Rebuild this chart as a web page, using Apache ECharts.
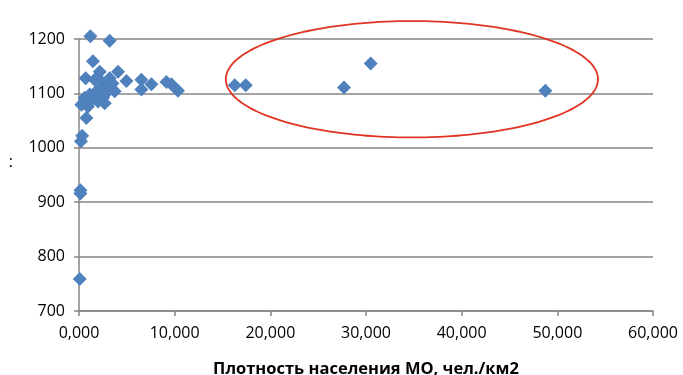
<!DOCTYPE html>
<html>
<head>
<meta charset="utf-8">
<script src="https://cdn.jsdelivr.net/npm/echarts@6/dist/echarts.min.js"></script>
<style>
html,body{margin:0;padding:0;background:#fff;}
#c{width:683px;height:375px;}
</style>
</head>
<body>
<div id="c"></div>
<script>
// Population density (x) and value (y)
var densityValues = [1.19, 3.21, 1.46, 4.08, 4.96, 6.52, 6.52, 7.57, 9.14, 9.66, 10.35,
  0.70, 2.17, 3.21, 3.73, 2.51, 2.69, 0.60, 0.25, 0.94, 0.77, 1.12, 1.64, 2.34, 3.21,
  1.82, 2.51, 0.42, 0.33, 0.20, 0.15, 0.15, 0.08, 1.30, 2.00, 2.80, 3.50,
  16.28, 17.43, 27.70, 30.49, 48.75];
var yValues = [1205, 1197, 1159, 1140, 1123, 1125, 1107, 1117, 1121, 1117, 1105,
  1128, 1140, 1110, 1104, 1092, 1082, 1092, 1079, 1076, 1055, 1098, 1125, 1122, 1128,
  1104, 1113, 1082, 1022, 1012, 922, 916, 759, 1088, 1085, 1100, 1118,
  1115, 1115, 1111, 1155, 1105];
var xTicks = {min: 0, max: 60, interval: 10};
var yTicks = {min: 700, max: 1200, interval: 100};
var xAxisTitle = 'Плотность населения МО, чел./км2';
var yAxisTitle = ':';
// highlighted region (ellipse) in data units
var highlightCenter = [34.8, 1126];
var highlightRadius = [19.45, 107];

var points = densityValues.map(function (x, i) { return [x, yValues[i]]; });

var chart = echarts.init(document.getElementById('c'));
var font = '"Open Sans", "Liberation Sans", sans-serif';
chart.setOption({
  animation: false,
  grid: {left: 79, right: 30, top: 39, bottom: 64, containLabel: false, outerBoundsMode: 'none'},
  xAxis: {
    type: 'value', min: xTicks.min, max: xTicks.max, interval: xTicks.interval,
    name: xAxisTitle, nameLocation: 'middle', nameGap: 50,
    nameTextStyle: {fontFamily: font, fontSize: 16.5, fontWeight: 'bold', color: '#000'},
    axisLine: {show: true, lineStyle: {color: '#868686', width: 1.5}},
    axisTick: {show: true, length: 5, lineStyle: {color: '#868686', width: 1.5}},
    splitLine: {show: false},
    axisLabel: {fontFamily: font, fontSize: 16, color: '#000', margin: 14,
      formatter: function (v) { return v.toFixed(3).replace('.', ','); }}
  },
  yAxis: {
    type: 'value', min: yTicks.min, max: yTicks.max, interval: yTicks.interval,
    name: yAxisTitle, nameLocation: 'middle', nameRotate: 0, nameGap: 66,
    nameTextStyle: {fontFamily: font, fontSize: 16, color: '#000', verticalAlign: 'bottom', lineHeight: 26},
    axisLine: {show: true, lineStyle: {color: '#868686', width: 1.5}},
    axisTick: {show: true, length: 5, lineStyle: {color: '#868686', width: 1.5}},
    splitLine: {show: true, lineStyle: {color: '#868686', width: 1.5}},
    axisLabel: {fontFamily: font, fontSize: 16, color: '#000', margin: 14,
      formatter: function (v) { return String(v); }}
  },
  series: [{
    type: 'scatter', symbol: 'diamond', symbolSize: 14, clip: false,
    itemStyle: {color: '#4F81BD', opacity: 1},
    data: points
  }]
});

function drawEllipse() {
  var c = chart.convertToPixel({gridIndex: 0}, highlightCenter);
  var e = chart.convertToPixel({gridIndex: 0},
    [highlightCenter[0] + highlightRadius[0], highlightCenter[1] + highlightRadius[1]]);
  var rx = Math.abs(e[0] - c[0]), ry = Math.abs(e[1] - c[1]);
  var pts = [];
  for (var i = 0; i < 180; i++) {
    var t = i / 180 * Math.PI * 2;
    pts.push([c[0] + rx * Math.cos(t), c[1] + ry * Math.sin(t)]);
  }
  chart.setOption({graphic: [{
    type: 'polygon', shape: {points: pts}, z: 10,
    style: {fill: 'none', stroke: '#E03424', lineWidth: 1.8}
  }]});
}
drawEllipse();
</script>
</body>
</html>
